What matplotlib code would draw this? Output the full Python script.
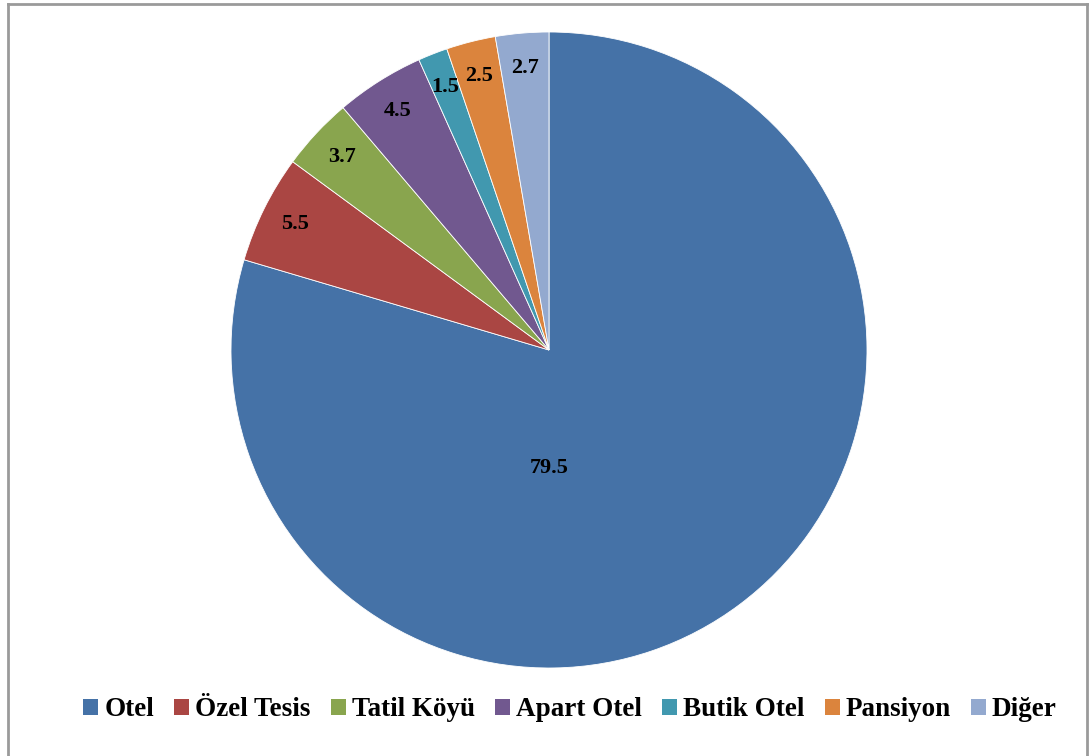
import matplotlib
matplotlib.use("Agg")
import matplotlib.pyplot as plt
from matplotlib.lines import Line2D
from matplotlib.patches import Patch
import numpy as np

categories = ["Otel", "Özel Tesis", "Tatil Köyü", "Apart Otel", "Butik Otel", "Pansiyon", "Diğer"]
values = [79.5, 5.5, 3.7, 4.5, 1.5, 2.5, 2.7]
labels = ["79.5", "5.5", "3.7", "4.5", "1.5", "2.5", "2.7"]
colors = ["#4572A7", "#AA4643", "#89A54E", "#71588F", "#4198AF", "#DB843D", "#93A9CF"]

plt.rcParams['font.family'] = ['Liberation Serif', 'DejaVu Serif']

W, H = 1092, 756
fig = plt.figure(figsize=(W / 100, H / 100), dpi=100)
fig.patch.set_facecolor("white")

cx, cy, r = 549, 350, 318
ax = fig.add_axes([(cx - r) / W, (H - cy - r) / H, 2 * r / W, 2 * r / H])
wedges, _ = ax.pie(values, colors=colors, startangle=90, counterclock=False,
                   wedgeprops=dict(edgecolor="white", linewidth=0.6))
ax.set_xlim(-1, 1)
ax.set_ylim(-1, 1)
ax.set_aspect("equal")
ax.axis("off")

for i, (w, lab) in enumerate(zip(wedges, labels)):
    ang = np.deg2rad((w.theta1 + w.theta2) / 2)
    if i == 0:
        x, y = 0.0, -0.37
    else:
        x, y = 0.89 * np.cos(ang), 0.89 * np.sin(ang)
    ax.text(x, y, lab, ha="center", va="center", fontsize=16, fontweight="bold", color="black")

handles = [Patch(facecolor=c, edgecolor="none") for c in colors]
fig.legend(handles, categories, loc="center", bbox_to_anchor=(570 / W, 1 - 710 / H),
           ncol=7, frameon=False, prop=dict(size=19.5, weight="bold"),
           handlelength=0.55, handleheight=0.55, handletextpad=0.22, columnspacing=0.75)

# outer border
bc = "#9a9a9a"
fig.add_artist(Line2D([8 / W, 8 / W], [0, 1 - 4 / H], transform=fig.transFigure, color=bc, lw=2))
fig.add_artist(Line2D([8 / W, 1087 / W], [1 - 4 / H, 1 - 4 / H], transform=fig.transFigure, color=bc, lw=2))
fig.add_artist(Line2D([1087 / W, 1087 / W], [0, 1 - 4 / H], transform=fig.transFigure, color=bc, lw=2))

fig.savefig("out.png", dpi=100)
